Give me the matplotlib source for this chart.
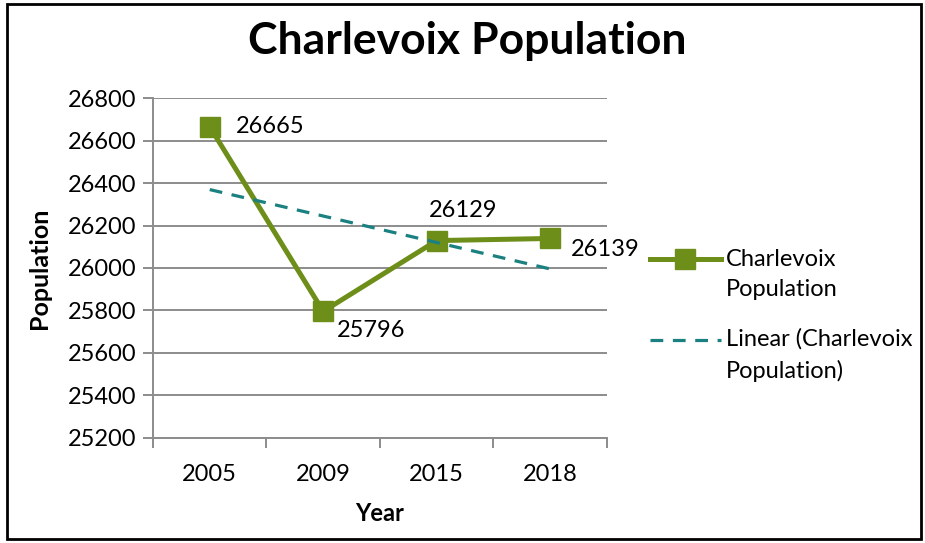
import numpy as np
import matplotlib.pyplot as plt
from matplotlib.patches import Rectangle
from matplotlib.ticker import FixedLocator
from matplotlib.legend_handler import HandlerLine2D

plt.rcParams['font.family'] = ['Lato', 'DejaVu Sans']

years = ['2005', '2009', '2015', '2018']
population = [26665, 25796, 26129, 26139]
y_ticks = [25200, 25400, 25600, 25800, 26000, 26200, 26400, 26600, 26800]

green = '#6E8E1A'
teal = '#1A8080'
grid_gray = '#8C8C8C'

x = np.arange(len(years))
# Excel style linear trendline, fitted on category index
slope, intercept = np.polyfit(x + 1, population, 1)
trend = slope * (x + 1) + intercept


class TopLineHandler(HandlerLine2D):
    # put the legend key next to the first line of a two-line label
    def create_artists(self, legend, orig_handle, xdescent, ydescent,
                       width, height, fontsize, trans):
        arts = super().create_artists(legend, orig_handle, xdescent, ydescent,
                                      width, height, fontsize, trans)
        for a in arts:
            a.set_ydata(np.asarray(a.get_ydata()) + 11)
        return arts


fig = plt.figure(figsize=(9.25, 5.43), dpi=100)
ax = fig.add_axes([0.1654, 0.1934, 0.4908, 0.6261])

l1, = ax.plot(x, population, color=green, lw=3.6, marker='s', markersize=14,
              label='Charlevoix\nPopulation', zorder=3)
l2, = ax.plot(x, trend, color=teal, lw=2.3, dashes=(4, 3),
              label='Linear (Charlevoix\nPopulation)', zorder=4)

ax.set_xlim(-0.5, len(years) - 0.5)
ax.set_ylim(y_ticks[0], y_ticks[-1])
ax.set_yticks(y_ticks)
ax.yaxis.grid(True, color=grid_gray, lw=1.4)
ax.set_axisbelow(True)

ax.set_xticks(x)
ax.set_xticklabels(years)
ax.xaxis.set_minor_locator(FixedLocator(np.arange(-0.5, len(years), 1.0)))
ax.tick_params(axis='x', which='major', length=0, pad=19, labelsize=17)
ax.tick_params(axis='x', which='minor', length=7, width=1.4, color=grid_gray, direction='out')
ax.tick_params(axis='y', length=7, width=1.4, color=grid_gray, pad=5, labelsize=17)

for side in ['top', 'right']:
    ax.spines[side].set_visible(False)
for side in ['left', 'bottom']:
    ax.spines[side].set_color(grid_gray)
    ax.spines[side].set_linewidth(1.4)

ax.set_xlabel('Year', fontsize=17, fontweight='bold', labelpad=12)
ax.set_ylabel('Population', fontsize=18, fontweight='bold', labelpad=12)

# data labels
offsets = [(19, 0, 'left'), (10, -14, 'left'), (19, 22, 'center'), (15, -8, 'left')]
for xi, yi, (dx, dy, ha) in zip(x, population, offsets):
    ax.annotate(str(yi), (xi, yi), xytext=(dx, dy), textcoords='offset points',
                ha=ha, va='center', fontsize=17)

fig.suptitle('Charlevoix Population', fontsize=32, fontweight='bold', y=0.962, x=0.505)

leg = fig.legend(handles=[l1, l2], loc='upper left', bbox_to_anchor=(0.69, 0.564),
                 frameon=False, fontsize=17, handlelength=3.0, handletextpad=0.2,
                 labelspacing=1.15, borderpad=0,
                 handler_map={l1: TopLineHandler(), l2: TopLineHandler()})
for t in leg.get_texts():
    t.set_linespacing(1.58)

fig.patches.append(Rectangle((0.008, 0.008), 0.988, 0.984, transform=fig.transFigure,
                             fill=False, edgecolor='black', lw=2))

fig.savefig('out.png', dpi=100)
